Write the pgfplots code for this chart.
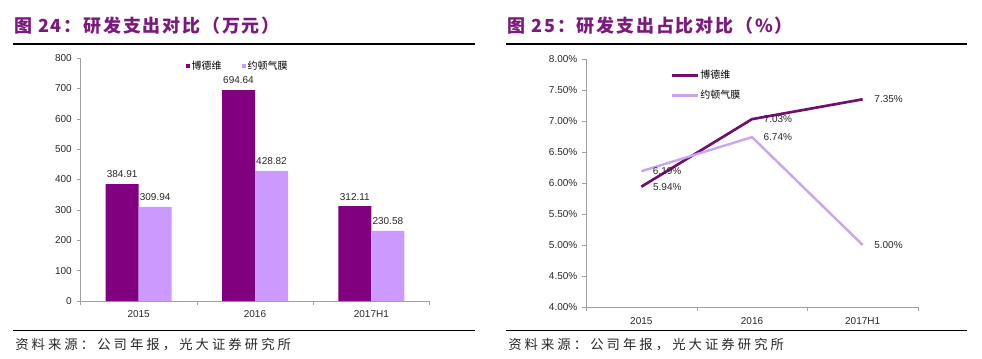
\documentclass[border=0pt]{standalone}
\usepackage{pgfplots}
\pgfplotsset{compat=1.18}
\usepackage{fontspec}
\setmainfont{Liberation Sans}
\newfontfamily\cjk{Noto Sans CJK SC}
\newfontfamily\cjktitle[LetterSpace=10]{Noto Sans CJK SC}
\newfontfamily\cjksrc[LetterSpace=23]{Noto Sans CJK SC}
\definecolor{dpurple}{RGB}{128,0,128}
\definecolor{lpurple}{RGB}{204,153,255}
\definecolor{tpurple}{RGB}{125,25,125}
\definecolor{axgray}{RGB}{160,160,160}
\definecolor{dline}{RGB}{112,16,110}
\definecolor{lline}{RGB}{200,165,240}
\definecolor{txt}{RGB}{40,40,40}
\begin{document}
\begin{tikzpicture}
\useasboundingbox (0,0) rectangle (736.5pt,268.5pt);
% titles
\node[anchor=west, inner sep=0pt, text=tpurple, font=\cjktitle\bfseries\fontsize{13.5}{15}\selectfont] at (10.5pt,249.4pt) {图 24：研发支出对比（万元）};
\node[anchor=west, inner sep=0pt, text=tpurple, font=\cjktitle\bfseries\fontsize{13.5}{15}\selectfont] at (380.5pt,249.4pt) {图 25：研发支出占比对比（\%）};
\draw[line width=0.9pt] (9.75pt,235.5pt) -- (356.25pt,235.5pt);
\draw[line width=0.9pt] (379.5pt,235.5pt) -- (725.25pt,235.5pt);
\draw[line width=0.9pt] (9.75pt,20.6pt) -- (356.25pt,20.6pt);
\draw[line width=0.9pt] (379.5pt,20.6pt) -- (725.25pt,20.6pt);
\node[anchor=west, inner sep=0pt, text=txt, font=\cjksrc\fontsize{10}{12}\selectfont] at (11.25pt,10.2pt) {资料来源：公司年报，光大证券研究所};
\node[anchor=west, inner sep=0pt, text=txt, font=\cjksrc\fontsize{10}{12}\selectfont] at (381pt,10.2pt) {资料来源：公司年报，光大证券研究所};

% left bar chart
\begin{axis}[
  at={(60.375pt,42.75pt)}, anchor=south west,
  scale only axis, width=261.75pt, height=182.25pt,
  xmin=-0.5, xmax=2.5, ymin=0, ymax=800, ytick={0,100,...,800},
  ybar=0pt, bar width=24.75pt,
  axis x line*=bottom, axis y line*=left,
  axis line style={axgray,-},
  tick style={axgray}, tick align=outside, major tick length=3pt,
  xtick={-0.5,0.5,1.5,2.5}, xticklabels={},
  extra x ticks={0,1,2}, extra x tick labels={2015,2016,2017H1},
  extra x tick style={major tick length=0pt, xticklabel style={yshift=-3.5pt}},
  ticklabel style={font=\fontsize{7.5}{9}\selectfont, text=txt},
  /pgf/number format/assume math mode=true,
  point meta=explicit symbolic,
  nodes near coords,
  nodes near coords style={font=\fontsize{7.5}{9}\selectfont, text=txt, yshift=1pt},
  legend columns=2,
  legend style={at={(0.301,0.995)}, anchor=north west, draw=none, fill=none,
    inner sep=0pt, font=\cjk\fontsize{7.5}{9}\selectfont,
    /tikz/every even column/.append style={column sep=14pt},
    nodes={inner xsep=1pt, inner ysep=1pt}},
  legend image code/.code={\fill[#1] (0pt,-1.7pt) rectangle (3.4pt,1.7pt);},
]
\addplot[fill=dpurple, draw=none] coordinates {(0,384.91)[384.91] (1,694.64)[694.64] (2,312.11)[312.11]};
\addplot[fill=lpurple, draw=none] coordinates {(0,309.94)[309.94] (1,428.82)[428.82] (2,230.58)[230.58]};
\legend{博德维,约顿气膜}
\end{axis}

% right line chart
\begin{axis}[
  at={(439.5pt,38.25pt)}, anchor=south west,
  scale only axis, width=249pt, height=186pt,
  xmin=-0.5, xmax=2.5, ymin=4, ymax=8,
  ytick={4,4.5,5,5.5,6,6.5,7,7.5,8},
  yticklabels={4.00\%,4.50\%,5.00\%,5.50\%,6.00\%,6.50\%,7.00\%,7.50\%,8.00\%},
  axis x line*=bottom, axis y line*=left,
  axis line style={axgray,-},
  tick style={axgray}, tick align=outside, major tick length=3pt,
  xtick={-0.5,0.5,1.5,2.5}, xticklabels={},
  extra x ticks={0,1,2}, extra x tick labels={2015,2016,2017H1},
  extra x tick style={major tick length=0pt, xticklabel style={yshift=-4pt}},
  ticklabel style={font=\fontsize{7.5}{9}\selectfont, text=txt},
  point meta=explicit symbolic,
  nodes near coords,
  nodes near coords style={font=\fontsize{7.5}{9}\selectfont, text=txt, anchor=west, xshift=4.5pt},
  legend style={at={(0.255,0.962)}, anchor=north west, draw=none, fill=none,
    inner sep=0pt, font=\cjk\fontsize{7.5}{9}\selectfont, row sep=5.5pt,
    cells={anchor=west}, nodes={inner xsep=0.5pt, inner ysep=1pt}},
  legend image code/.code={\draw[#1] (0pt,0pt) -- (19.5pt,0pt);},
]
\addplot[dline, line width=2pt, mark=none] coordinates {(0,5.94)[5.94\%] (1,7.03)[7.03\%] (2,7.35)[7.35\%]};
\addplot[lline, line width=1.8pt, mark=none] coordinates {(0,6.19)[6.19\%] (1,6.74)[6.74\%] (2,5.00)[5.00\%]};
\legend{博德维,约顿气膜}
\end{axis}
\end{tikzpicture}
\end{document}
